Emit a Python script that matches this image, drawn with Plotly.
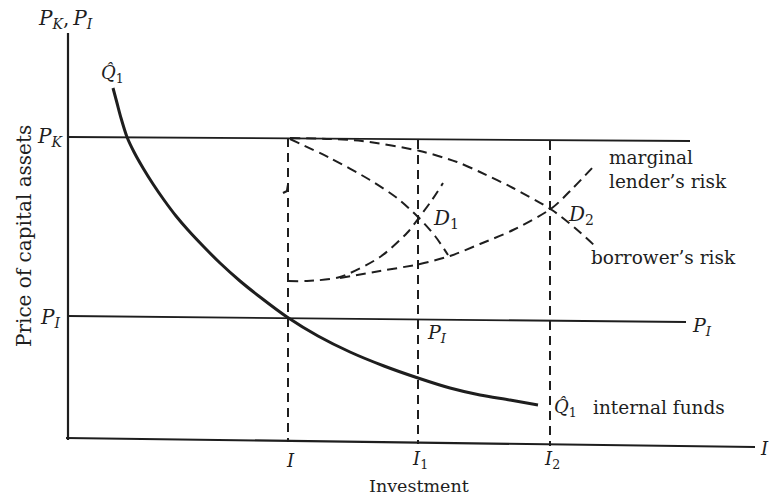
import plotly.graph_objects as go

# ---- data (chart units; price axis drawn top-down) ----
tick_labels = ["<i>I</i>", "<i>I</i><sub>1</sub>", "<i>I</i><sub>2</sub>"]
tick_x = [288, 418, 550]
tick_top = [138, 140, 141]
tick_bottom = [442, 444, 446]

axis_y_x = [68, 68]
axis_y_y = [33, 440]
axis_x_x = [66, 755]
axis_x_y = [438, 447]

pk_x = [68, 690]
pk_y = [137, 141]
pi_x = [68, 686]
pi_y = [316, 322]

q1_x = [113, 117, 121, 127, 134, 143, 153, 164, 176, 188, 204, 220, 240, 260, 287, 318, 350, 384, 418, 450, 480, 510, 538]
q1_y = [88, 103, 118, 137, 152, 168, 184, 200, 216, 230, 247, 263, 281, 297, 317, 336, 352, 366, 378, 388, 395, 400, 405]

borrower1_x = [290, 330, 370, 397, 418, 435, 448]
borrower1_y = [139, 158, 180, 198, 217, 236, 255]
lender1_x = [288, 307, 340, 380, 407, 418, 432, 443]
lender1_y = [281, 281, 277, 257, 233, 219, 200, 183]
borrower2_x = [290, 330, 362, 420, 457, 480, 513, 552, 575, 595]
borrower2_y = [138, 139, 141, 151, 162, 172, 188, 210, 228, 246]
lender2_x = [340, 380, 420, 450, 480, 513, 552, 573, 594]
lender2_y = [278, 271, 264, 256, 244, 230, 208, 188, 166]

hook_x = [288, 287, 283]
hook_y = [185, 191, 193]

FONT = "DejaVu Serif"
INK = "#1e1e1e"

fig = go.Figure()

def line(x, y, width=1.6, dash=None, shape="linear"):
    fig.add_trace(go.Scatter(
        x=x, y=y, mode="lines", hoverinfo="skip", showlegend=False,
        line=dict(color=INK, width=width, dash=dash, shape=shape, smoothing=0.8),
    ))

# axes
line(axis_y_x, axis_y_y, 2.2)
line(axis_x_x, axis_x_y, 2.2)
# price levels
line(pk_x, pk_y, 1.8)
line(pi_x, pi_y, 1.8)
# vertical dashed investment levels
for xv, yt, yb in zip(tick_x, tick_top, tick_bottom):
    line([xv, xv], [yt, yb], 2.0, dash="9px,6px")
line(hook_x, hook_y, 2.2)
# internal funds curve
line(q1_x, q1_y, 3.0, shape="spline")
# risk curves
for cx, cy in [(borrower1_x, borrower1_y), (lender1_x, lender1_y),
               (borrower2_x, borrower2_y), (lender2_x, lender2_y)]:
    line(cx, cy, 2.0, dash="10px,6px", shape="spline")

def label(x, y, text, size=18, anchor="center", angle=0):
    fig.add_annotation(x=x, y=y, xref="x", yref="y", text=text, showarrow=False,
                       xanchor=anchor, yanchor="middle", textangle=angle,
                       font=dict(family=FONT, size=size, color=INK))

label(65, 19, "<i>P</i><sub><i>K</i></sub>,\u2009<i>P</i><sub><i>I</i></sub>", 20)
label(112, 74, "<i>Q\u0302</i><sub>1</sub>", 18)
label(50, 137, "<i>P</i><sub><i>K</i></sub>", 20)
label(50, 318, "<i>P</i><sub><i>I</i></sub>", 20)
label(24, 236, "Price of capital assets", 20, angle=-90)
label(607, 157, "marginal", 18.5, anchor="left")
label(607, 181, "lender\u2019s risk", 18.5, anchor="left")
label(446, 219, "<i>D</i><sub>1</sub>", 20)
label(581, 215, "<i>D</i><sub>2</sub>", 20)
label(589, 257, "borrower\u2019s risk", 18.5, anchor="left")
label(437, 333, "<i>P</i><sub><i>I</i></sub>", 19)
label(702, 326, "<i>P</i><sub><i>I</i></sub>", 19)
label(565, 408, "<i>Q\u0302</i><sub>1</sub>", 18)
label(591, 407, "internal funds", 18.5, anchor="left")
for xv, t in zip(tick_x, tick_labels):
    label(xv + 2, 460, t, 18)
label(764, 448, "<i>I</i>", 18)
label(419, 486, "Investment", 17.5)

fig.update_layout(
    width=774, height=497,
    margin=dict(l=0, r=0, t=0, b=0),
    paper_bgcolor="white", plot_bgcolor="white",
    xaxis=dict(range=[0, 774], visible=False, fixedrange=True),
    yaxis=dict(range=[497, 0], visible=False, fixedrange=True),
    showlegend=False,
)

fig.write_html(
    "out.html",
    config={"displayModeBar": False, "staticPlot": True},
    post_script="document.body.style.margin='0';document.body.style.overflow='hidden';",
)
